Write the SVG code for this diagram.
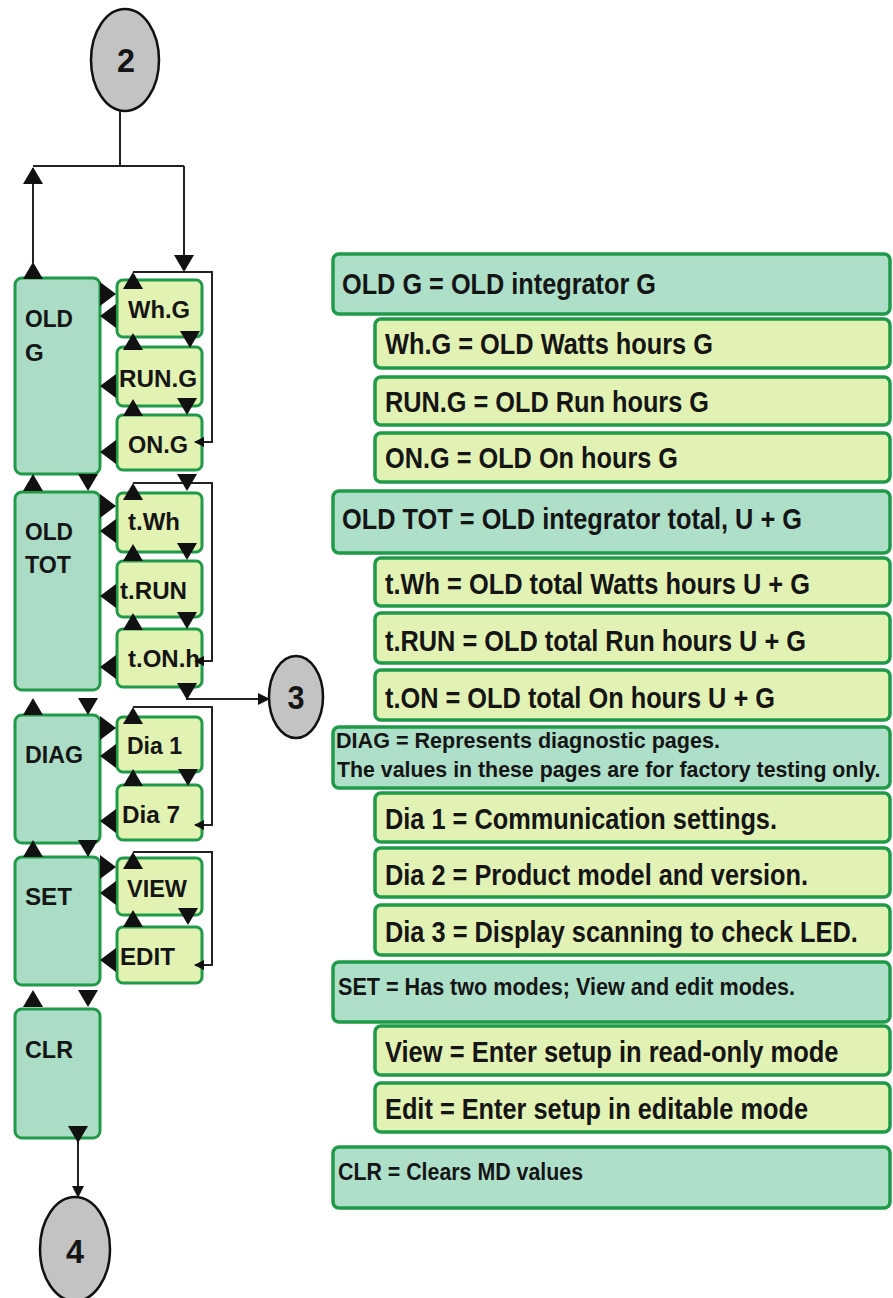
<svg xmlns="http://www.w3.org/2000/svg" xmlns:xlink="http://www.w3.org/1999/xlink" width="893" height="1298" viewBox="0 0 893 1298">
<style>
.big{fill:#aadcc6;stroke:#1f9a48;stroke-width:3}
.sub{fill:#e2f2b2;stroke:#1f9a48;stroke-width:3}
.rbig{fill:#aedfc9;stroke:#1f9a48;stroke-width:3.5}
.rsub{fill:#e2f2b4;stroke:#1f9a48;stroke-width:3.5}
text{font-family:"Liberation Sans Narrow","Liberation Sans",Arial,sans-serif;font-weight:bold;fill:#151515}
.l{font-size:24px}
.r{font-size:30px}
.s{font-size:22px}
.s2{font-size:24px}
.n{font-size:34px;text-anchor:middle}
.con{fill:none;stroke:#222;stroke-width:2}
.circ{fill:#c3c3c3;stroke:#111;stroke-width:2.5}
.tri{fill:#111}
</style>
<defs>
<path id="tu" d="M0,0 L10,17 L-10,17 Z"/>
<path id="td" d="M-10,-17 L10,-17 L0,0 Z"/>
<path id="tl" d="M0,0 L16,-12 L16,12 Z"/>
<path id="tr" d="M0,0 L-16,-12 L-16,12 Z"/>
<marker id="arr" markerWidth="12" markerHeight="12" refX="11" refY="6" orient="auto" markerUnits="userSpaceOnUse">
<path d="M0,0 L12,6 L0,12 Z" fill="#111"/>
</marker>
<marker id="arrs" markerWidth="10" markerHeight="10" refX="9" refY="5" orient="auto" markerUnits="userSpaceOnUse">
<path d="M0,0 L10,5 L0,10 Z" fill="#111"/>
</marker>
</defs>

<!-- circles -->
<g id="c2"><ellipse class="circ" cx="125" cy="60" rx="34" ry="51"/><text class="n" x="126" y="72" textLength="18" lengthAdjust="spacingAndGlyphs">2</text></g>
<g id="c3"><ellipse class="circ" cx="296" cy="697" rx="27" ry="41"/><text class="n" x="296" y="709" textLength="17" lengthAdjust="spacingAndGlyphs">3</text></g>
<g id="c4"><ellipse class="circ" cx="75" cy="1249" rx="35" ry="52"/><text class="n" x="75" y="1263" textLength="18" lengthAdjust="spacingAndGlyphs">4</text></g>

<!-- left big boxes -->
<g id="oldg"><rect class="big" x="15" y="278" width="85" height="196" rx="7"/><text class="l" x="25" y="327" textLength="48" lengthAdjust="spacingAndGlyphs">OLD</text><text class="l" x="25" y="361">G</text></g>
<g id="oldtot"><rect class="big" x="15" y="492" width="85" height="198" rx="7"/><text class="l" x="25" y="540" textLength="48" lengthAdjust="spacingAndGlyphs">OLD</text><text class="l" x="25" y="573" textLength="46" lengthAdjust="spacingAndGlyphs">TOT</text></g>
<g id="diag"><rect class="big" x="15" y="715" width="85" height="128" rx="7"/><text class="l" x="25" y="763" textLength="58" lengthAdjust="spacingAndGlyphs">DIAG</text></g>
<g id="set"><rect class="big" x="15" y="857" width="85" height="128" rx="7"/><text class="l" x="25" y="905" textLength="47" lengthAdjust="spacingAndGlyphs">SET</text></g>
<g id="clr"><rect class="big" x="15" y="1009" width="85" height="129" rx="7"/><text class="l" x="25" y="1058" textLength="48" lengthAdjust="spacingAndGlyphs">CLR</text></g>

<!-- left sub boxes -->
<g id="whg"><rect class="sub" x="117" y="280" width="85" height="57" rx="6"/><text class="l" x="128" y="318" textLength="62" lengthAdjust="spacingAndGlyphs">Wh.G</text></g>
<g id="rung"><rect class="sub" x="117" y="347" width="85" height="59" rx="6"/><text class="l" x="119" y="387" textLength="78" lengthAdjust="spacingAndGlyphs">RUN.G</text></g>
<g id="ong"><rect class="sub" x="117" y="415" width="85" height="55" rx="6"/><text class="l" x="128" y="453" textLength="60" lengthAdjust="spacingAndGlyphs">ON.G</text></g>
<g id="twh"><rect class="sub" x="117" y="493" width="85" height="59" rx="6"/><text class="l" x="128" y="530" textLength="52" lengthAdjust="spacingAndGlyphs">t.Wh</text></g>
<g id="trun"><rect class="sub" x="117" y="561" width="85" height="56" rx="6"/><text class="l" x="120" y="599" textLength="67" lengthAdjust="spacingAndGlyphs">t.RUN</text></g>
<g id="tonh"><rect class="sub" x="117" y="629" width="85" height="58" rx="6"/><text class="l" x="128" y="667" textLength="72" lengthAdjust="spacingAndGlyphs">t.ON.h</text></g>
<g id="dia1"><rect class="sub" x="117" y="717" width="85" height="55" rx="6"/><text class="l" x="127" y="754" textLength="55" lengthAdjust="spacingAndGlyphs">Dia 1</text></g>
<g id="dia7"><rect class="sub" x="117" y="785" width="85" height="55" rx="6"/><text class="l" x="122" y="823" textLength="58" lengthAdjust="spacingAndGlyphs">Dia 7</text></g>
<g id="view"><rect class="sub" x="117" y="858" width="85" height="57" rx="6"/><text class="l" x="127" y="897" textLength="60" lengthAdjust="spacingAndGlyphs">VIEW</text></g>
<g id="edit"><rect class="sub" x="117" y="927" width="85" height="56" rx="6"/><text class="l" x="120" y="965" textLength="55" lengthAdjust="spacingAndGlyphs">EDIT</text></g>

<!-- right description boxes -->
<g id="d-oldg"><rect class="rbig" x="333" y="254" width="557" height="60" rx="6"/><text class="r" x="342" y="294" textLength="314" lengthAdjust="spacingAndGlyphs">OLD G = OLD integrator G</text></g>
<g id="d-whg"><rect class="rsub" x="375" y="319" width="515" height="49" rx="6"/><text class="r" x="385" y="354" textLength="328" lengthAdjust="spacingAndGlyphs">Wh.G = OLD Watts hours G</text></g>
<g id="d-rung"><rect class="rsub" x="375" y="377" width="515" height="48" rx="6"/><text class="r" x="385" y="412" textLength="324" lengthAdjust="spacingAndGlyphs">RUN.G = OLD Run hours G</text></g>
<g id="d-ong"><rect class="rsub" x="375" y="433" width="515" height="49" rx="6"/><text class="r" x="385" y="468" textLength="293" lengthAdjust="spacingAndGlyphs">ON.G = OLD On hours G</text></g>
<g id="d-oldtot"><rect class="rbig" x="333" y="491" width="557" height="62" rx="6"/><text class="r" x="342" y="529" textLength="460" lengthAdjust="spacingAndGlyphs">OLD TOT = OLD integrator total, U + G</text></g>
<g id="d-twh"><rect class="rsub" x="375" y="558" width="515" height="48" rx="6"/><text class="r" x="385" y="594" textLength="425" lengthAdjust="spacingAndGlyphs">t.Wh = OLD total Watts hours U + G</text></g>
<g id="d-trun"><rect class="rsub" x="375" y="613" width="515" height="50" rx="6"/><text class="r" x="385" y="651" textLength="421" lengthAdjust="spacingAndGlyphs">t.RUN = OLD total Run hours U + G</text></g>
<g id="d-ton"><rect class="rsub" x="375" y="670" width="515" height="50" rx="6"/><text class="r" x="385" y="708" textLength="390" lengthAdjust="spacingAndGlyphs">t.ON = OLD total On hours U + G</text></g>
<g id="d-diag"><rect class="rbig" x="333" y="727" width="557" height="61" rx="6"/><text class="s" x="336" y="748" textLength="384" lengthAdjust="spacingAndGlyphs">DIAG = Represents diagnostic pages.</text><text class="s" transform="translate(337,777) scale(0.97,1)">The values in these pages are for factory testing only.</text></g>
<g id="d-dia1"><rect class="rsub" x="375" y="793" width="515" height="49" rx="6"/><text class="r" x="385" y="829" textLength="392" lengthAdjust="spacingAndGlyphs">Dia 1 = Communication settings.</text></g>
<g id="d-dia2"><rect class="rsub" x="375" y="848" width="515" height="49" rx="6"/><text class="r" x="385" y="885" textLength="423" lengthAdjust="spacingAndGlyphs">Dia 2 = Product model and version.</text></g>
<g id="d-dia3"><rect class="rsub" x="375" y="905" width="515" height="50" rx="6"/><text class="r" transform="translate(385,942) scale(0.846,1)">Dia 3 = Display scanning to check LED.</text></g>
<g id="d-set"><rect class="rbig" x="333" y="962" width="557" height="60" rx="6"/><text class="s2" x="338" y="995" textLength="457" lengthAdjust="spacingAndGlyphs">SET = Has two modes; View and edit modes.</text></g>
<g id="d-view"><rect class="rsub" x="375" y="1026" width="515" height="49" rx="6"/><text class="r" transform="translate(385,1062) scale(0.85,1)">View = Enter setup in read-only mode</text></g>
<g id="d-edit"><rect class="rsub" x="375" y="1083" width="515" height="49" rx="6"/><text class="r" x="385" y="1119" textLength="423" lengthAdjust="spacingAndGlyphs">Edit = Enter setup in editable mode</text></g>
<g id="d-clr"><rect class="rbig" x="333" y="1147" width="557" height="61" rx="6"/><text class="s2" x="338" y="1180" textLength="245" lengthAdjust="spacingAndGlyphs">CLR = Clears MD values</text></g>

<!-- connectors -->
<g id="connectors">
<path class="con" d="M120,111 V166 M33,166 H184 M33,168 V263 M184,166 V262"/>
<path class="con" d="M133,272 H212 V442 H195" marker-end="url(#arrs)"/>
<path class="con" d="M133,483 H212 V661 H195" marker-end="url(#arrs)"/>
<path class="con" d="M133,707 H212 V825 H195" marker-end="url(#arrs)"/>
<path class="con" d="M133,852 H212 V965 H195" marker-end="url(#arrs)"/>
<path class="con" d="M187,690 V699 H269" marker-end="url(#arr)"/>
<path class="con" d="M78,1140 V1197" marker-end="url(#arr)"/>
<g class="tri">
<use xlink:href="#tu" x="33" y="167"/>
<use xlink:href="#tu" x="33" y="262"/>
<use xlink:href="#td" x="184" y="272"/>
<use xlink:href="#tu" x="133" y="272"/>
<use xlink:href="#tr" x="116" y="294"/>
<use xlink:href="#tl" x="100" y="316"/>
<use xlink:href="#td" x="190" y="348"/>
<use xlink:href="#tu" x="133" y="333"/>
<use xlink:href="#tl" x="100" y="386"/>
<use xlink:href="#td" x="187" y="415"/>
<use xlink:href="#tu" x="133" y="399"/>
<use xlink:href="#tl" x="100" y="452"/>
<use xlink:href="#td" x="187" y="491"/>
<use xlink:href="#tu" x="33" y="474"/>
<use xlink:href="#td" x="88" y="491"/>
<use xlink:href="#tu" x="133" y="483"/>
<use xlink:href="#tr" x="116" y="506"/>
<use xlink:href="#tl" x="100" y="531"/>
<use xlink:href="#td" x="187" y="560"/>
<use xlink:href="#tu" x="133" y="544"/>
<use xlink:href="#tl" x="100" y="596"/>
<use xlink:href="#td" x="187" y="629"/>
<use xlink:href="#tu" x="133" y="613"/>
<use xlink:href="#tl" x="100" y="667"/>
<use xlink:href="#td" x="187" y="700"/>
<use xlink:href="#tu" x="33" y="698"/>
<use xlink:href="#td" x="88" y="715"/>
<use xlink:href="#tu" x="133" y="707"/>
<use xlink:href="#tr" x="116" y="728"/>
<use xlink:href="#tl" x="100" y="756"/>
<use xlink:href="#td" x="188" y="786"/>
<use xlink:href="#tu" x="133" y="769"/>
<use xlink:href="#tl" x="100" y="821"/>
<use xlink:href="#tu" x="33" y="840"/>
<use xlink:href="#td" x="88" y="857"/>
<use xlink:href="#tu" x="133" y="852"/>
<use xlink:href="#tr" x="116" y="867"/>
<use xlink:href="#tl" x="100" y="893"/>
<use xlink:href="#td" x="188" y="925"/>
<use xlink:href="#tu" x="133" y="910"/>
<use xlink:href="#tl" x="100" y="960"/>
<use xlink:href="#tu" x="33" y="990"/>
<use xlink:href="#td" x="88" y="1007"/>
<use xlink:href="#td" x="78" y="1143"/>
</g>
</g>
</svg>
